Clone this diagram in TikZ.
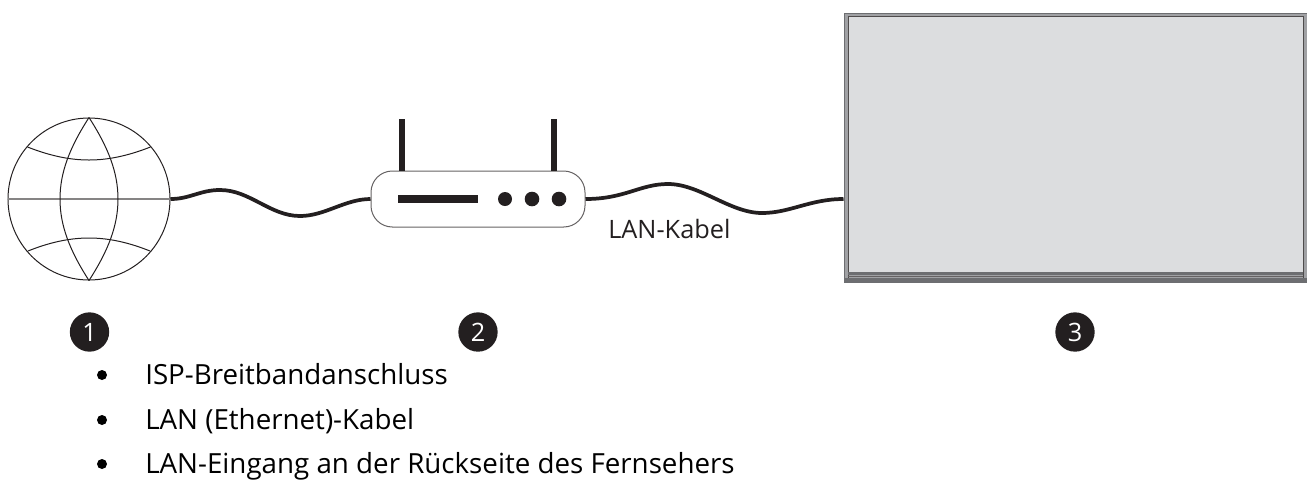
\documentclass[tikz,border=0pt]{standalone}
\usepackage{fontspec}
\setmainfont{Open Sans}
\definecolor{ink}{HTML}{231F20}
\definecolor{bezel}{HTML}{A0A1A4}
\definecolor{screen}{HTML}{DCDDDF}
\definecolor{edge}{HTML}{6D6E71}
\tikzset{
 x=0.75pt,y=-0.75pt,
 thinline/.style={draw=ink,line width=0.75pt},
 cable/.style={draw=ink,line width=2.8pt},
 antenna/.style={fill=ink,draw=none},
 numdot/.style={circle,fill=ink,text=white,minimum size=29.5pt,inner sep=0pt,font=\fontsize{19}{19}\selectfont},
 body/.style={anchor=base west,inner sep=0pt,text=black,font=\fontsize{20.8}{24}\selectfont},
 bulletdot/.style={circle,fill=black,minimum size=7.5pt,inner sep=0pt},
}
\begin{document}
\begin{tikzpicture}
\useasboundingbox (0,0) rectangle (1307,480);
% globe
\node[circle,thinline,minimum size=121.5pt,inner sep=0pt] (globe) at (89,199) {};
\coordinate (gn) at (globe.north);
\coordinate (gs) at (globe.south);
\draw[draw=ink!55,line width=1.4pt] (globe.west) -- (globe.east);
\draw[thinline] (gn) .. controls (70,147) and (60,172) .. (60,199) .. controls (60,226) and (70,251) .. (gs);
\draw[thinline] (gn) .. controls (108,147) and (118,172) .. (118,199) .. controls (118,226) and (108,251) .. (gs);
\draw[thinline] (27.5,147) .. controls (48,155) and (68,160) .. (89,160) .. controls (110,160) and (130,155) .. (150.5,147);
\draw[thinline] (28,251) .. controls (48,243) and (68,238) .. (89,238) .. controls (110,238) and (130,243) .. (150,251);
% router
\node[rectangle,rounded corners=16pt,draw=ink!70,line width=0.75pt,minimum width=160.5pt,minimum height=42pt,inner sep=0pt] (router) at (478,199) {};
\fill[antenna] (399,119) rectangle (405,171);
\fill[antenna] (551,119) rectangle (557,171);
\fill[antenna] (398,195) rectangle (478,203);
\fill[ink] (505,199) circle[radius=7];
\fill[ink] (532,199) circle[radius=7.3];
\fill[ink] (559,199) circle[radius=7.3];
% tv
\node[rectangle,fill=bezel,draw=edge,line width=1pt,minimum width=348pt,minimum height=201.5pt,inner sep=0pt,anchor=north west] (tv) at (843.5,12.5) {};
\fill[screen] (848,17) rectangle (1303,272);
\draw[ink!80,line width=0.7pt] (848,281) -- (848,16.5) -- (1303,16.5) -- (1303,281);
\fill[edge] (848,272) rectangle (1303,275);
\fill[edge] (844,278) rectangle (1307,281.5);
\draw[ink!70,line width=0.5pt] (848,276.5) -- (1303,276.5);
% cables
\draw[cable] (globe.east) .. controls (190,199) and (200,190) .. (220,190) .. controls (250,190) and (270,216) .. (300,216) .. controls (325,216) and (345,199) .. (router.west);
\draw[cable] (router.east) .. controls (625,199) and (640,184) .. (668,184) .. controls (700,184) and (730,213) .. (762,213) .. controls (790,213) and (810,199) .. (tv.west |- router.east);
% labels
\node[anchor=base west,inner sep=0pt,text=ink,font=\fontsize{19}{22}\selectfont] (lan) at (608,238) {LAN-Kabel};
\node[numdot] (n1) at (89.5,332) {1};
\node[numdot] (n2) at (478,332) {2};
\node[numdot] (n3) at (1075,332) {3};
\node[bulletdot] (b1) at (102,375) {};
\node[bulletdot] (b2) at (102,420) {};
\node[bulletdot] (b3) at (102,464) {};
\node[body] (t1) at (145,384) {ISP-Breitbandanschluss};
\node[body] (t2) at (145,429) {LAN (Ethernet)-Kabel};
\node[body] (t3) at (145,473) {LAN-Eingang an der Rückseite des Fernsehers};
\end{tikzpicture}
\end{document}
